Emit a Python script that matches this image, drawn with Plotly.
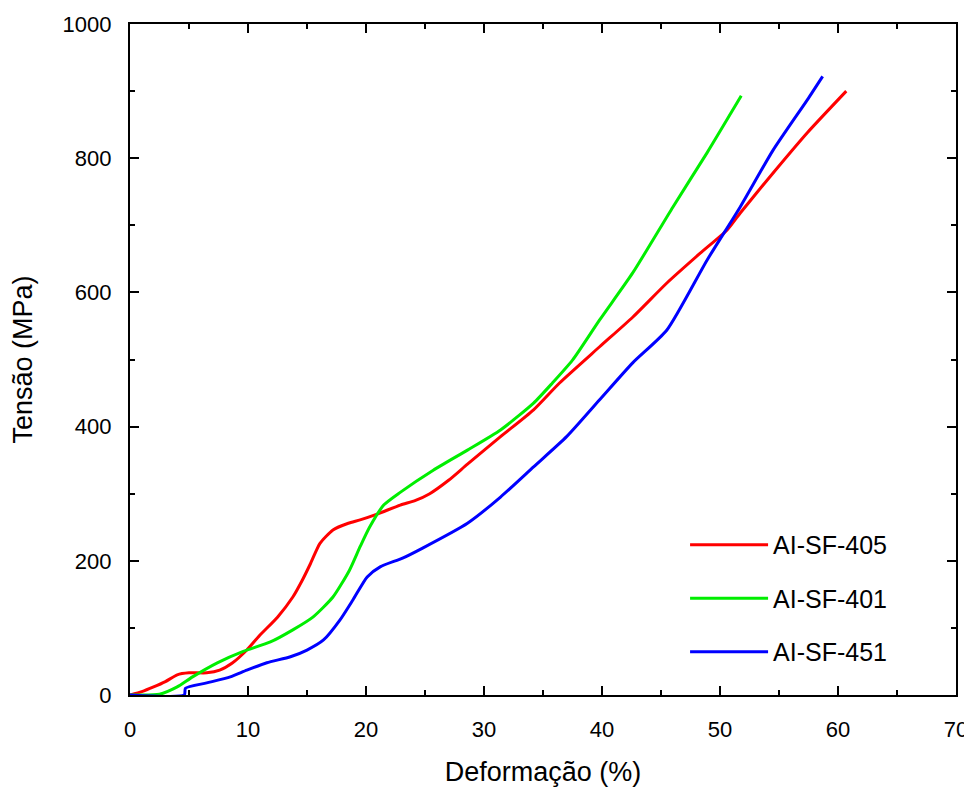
import plotly.graph_objects as go

# Data
x_405 = [0, 1, 2, 3, 4, 5, 6.5, 7.6, 8.7, 9.9, 11, 12.5, 13.8, 14.6, 15.3, 16.1, 17.2, 18.5, 19.5, 21,
         22.9, 24.2, 25.4, 27, 28.6, 31.4, 34.2, 36.4, 39.8, 42.6, 45.5, 48.3, 50.6, 51.7, 54.5, 57.4, 60.7]
y_405 = [0, 5, 12, 20, 30, 33, 33, 37, 48, 67, 89, 116, 146, 171, 196, 226, 246, 256, 261, 270,
         283, 290, 300, 320, 344, 385, 425, 465, 519, 563, 614, 658, 693, 718, 778, 838, 900]

x_401 = [0, 2.5, 4, 5.3, 7.4, 9.6, 11.9, 13.8, 15.5, 17.2, 18.6, 19.5, 20.3, 21.5, 22.9, 25.7,
         28.6, 31.4, 34.2, 35.8, 37.5, 39.8, 42.6, 46, 48.9, 51.8]
y_401 = [0, 1, 12, 27, 48, 65, 79, 97, 116, 146, 186, 221, 250, 283, 302, 335,
         365, 395, 435, 465, 499, 559, 629, 727, 808, 893]

x_451 = [0, 4.6, 4.7, 6.5, 8.5, 9.9, 11.6, 13.6, 15, 16.4, 17.8, 18.9, 20.1, 21.2, 23.1, 24.8,
         28.6, 31.4, 34.2, 37, 39.8, 42.6, 45.5, 48.9, 51.7, 54.5, 57.4, 58.7]
y_451 = [0, 0, 10, 18, 27, 37, 48, 57, 67, 82, 112, 142, 176, 191, 204, 219,
         256, 295, 340, 385, 440, 495, 544, 648, 727, 812, 887, 922]

names = ["AI-SF-405", "AI-SF-401", "AI-SF-451"]
colors = ["#ff0000", "#00ee00", "#0000ff"]

FONT = "Liberation Sans, Arial"

fig = go.Figure()
for i, (xs, ys) in enumerate([(x_405, y_405), (x_401, y_401), (x_451, y_451)]):
    fig.add_trace(go.Scatter(
        x=xs, y=ys, mode="lines", name=names[i], legendgroup=str(i),
        line=dict(color=colors[i], width=3, shape="spline", smoothing=0.6),
    ))

axis_common = dict(
    showline=True, linecolor="black", linewidth=2, mirror="allticks",
    ticks="inside", ticklen=9, tickwidth=2, tickcolor="black",
    showgrid=False, zeroline=False, automargin=False,
    tickfont=dict(family=FONT, size=22, color="black"),
    title_font=dict(family=FONT, size=27, color="black"),
)

fig.update_xaxes(range=[0, 70], dtick=10, title_text="Deformação (%)", title_standoff=21,
                 minor=dict(ticks="inside", ticklen=5, tickwidth=2, dtick=5, tickcolor="black"),
                 ticklabelstandoff=14, **axis_common)
fig.update_yaxes(range=[0, 1000], dtick=200, title_text="Tensão (MPa)", title_standoff=26,
                 ticksuffix="\u00a0\u00a0",
                 minor=dict(ticks="inside", ticklen=5, tickwidth=2, dtick=100, tickcolor="black"),
                 **axis_common)

fig.update_layout(
    width=964, height=781,
    margin=dict(l=122, r=16, t=16, b=94),
    paper_bgcolor="white", plot_bgcolor="white",
    legend=dict(x=0.672, y=0.258, xanchor="left", yanchor="top",
                font=dict(family=FONT, size=25, color="black"),
                bgcolor="rgba(0,0,0,0)", tracegroupgap=18, itemwidth=78),
    showlegend=True,
)

fig.write_html("out.html")
